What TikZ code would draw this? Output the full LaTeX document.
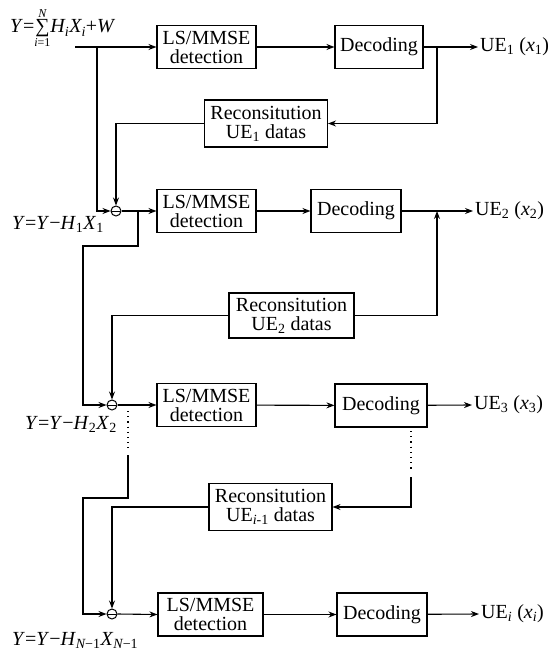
\documentclass[tikz,border=0pt]{standalone}
\usepackage{fontspec}
\setmainfont{Liberation Serif}
\usetikzlibrary{arrows.meta}
\newcommand\sbs[1]{\textsubscript{#1}}
\begin{document}
\begin{tikzpicture}[x=1pt,y=-1pt,
 font=\fontsize{20}{19}\selectfont,
 blk/.style={draw,line width=1.1pt,align=center,inner sep=0pt,minimum height=43pt},
 ln/.style={line width=1.1pt},
 dots/.style={ln,dash pattern=on 1.2pt off 4pt},
 arr/.style={ln,-{Stealth[length=8pt,width=6pt]}},
 minus/.style={draw,circle,line width=1pt,minimum size=10pt,inner sep=0pt,
   path picture={\draw[line width=0.8pt] (path picture bounding box.west) -- (path picture bounding box.east);}},
 lbl/.style={inner sep=0pt},
 outl/.style={inner sep=2pt,anchor=west}]
\useasboundingbox (0,0) rectangle (555,650);
% row 1
\node[lbl,anchor=base west] (in0) at (10,33) {\textit{Y}=$\mathop{\hbox{∑}}\limits_{\hbox{\fontsize{12}{12}\selectfont\itshape i\upshape=1}}^{\hbox{\fontsize{12}{12}\selectfont\itshape N}}$\textit{H\sbs{i}X\sbs{i}}+\textit{W}};
\node[blk,minimum width=99pt] (ls1) at (206.5,47) {LS/MMSE\\detection};
\node[blk,minimum width=88pt] (dec1) at (379,47) {Decoding};
\node[outl] (ue1) at (478,47) {UE\sbs{1} (\textit{x}\sbs{1})};
\node[blk,minimum width=123pt,minimum height=47pt] (rec1) at (266,123.5) {Reconsitution\\UE\sbs{1} datas};
\node[minus] (m1) at (116,211) {};
% row 2
\node[blk,minimum width=99pt] (ls2) at (206.5,211) {LS/MMSE\\detection};
\node[blk,minimum width=90pt] (dec2) at (356,211) {Decoding};
\node[outl] (ue2) at (473,211) {UE\sbs{2} (\textit{x}\sbs{2})};
\node[lbl,anchor=base west] (l1) at (12,229) {\textit{Y}=\textit{Y}−\textit{H}\sbs{1}\textit{X}\sbs{1}};
\node[blk,minimum width=125pt,minimum height=45pt] (rec2) at (291.5,315.5) {Reconsitution\\UE\sbs{2} datas};
\node[minus] (m2) at (112,405) {};
% row 3
\node[blk,minimum width=99pt] (ls3) at (206.5,405) {LS/MMSE\\detection};
\node[blk,minimum width=92pt] (dec3) at (381,405.5) {Decoding};
\node[outl] (ue3) at (472,405) {UE\sbs{3} (\textit{x}\sbs{3})};
\node[lbl,anchor=base west] (l2) at (25,429) {\textit{Y}=\textit{Y}−\textit{H}\sbs{2}\textit{X}\sbs{2}};
\node[blk,minimum width=123pt,minimum height=47pt] (rec3) at (270.5,507) {Reconsitution\\UE\textsubscript{\itshape i\upshape-1} datas};
\node[minus] (m4) at (112,614) {};
% row 4
\node[blk,minimum width=105pt] (ls4) at (210.5,614.5) {LS/MMSE\\detection};
\node[blk,minimum width=90pt] (dec4) at (382,614.5) {Decoding};
\node[outl] (ue4) at (479,614) {UE\textsubscript{\itshape i} (\textit{x}\textsubscript{\itshape i})};
\node[lbl,anchor=base west] (l3) at (12,645) {\textit{Y}=\textit{Y}−\textit{H}\textsubscript{\itshape N\upshape−1}\textit{X}\textsubscript{\itshape N\upshape−1}};
% coordinates
\coordinate (s0) at (75,47);
\coordinate (b0) at (97,47);
\coordinate (f1) at (437,47);
\coordinate (b1) at (138,211);
\coordinate (k1) at (83,246);
\coordinate (f2) at (437,211);
\coordinate (d1a) at (128,411);
\coordinate (d1b) at (128,448);
\coordinate (d1c) at (128,455);
\coordinate (k2) at (83,498);
\coordinate (d2a) at (411,431);
\coordinate (d2b) at (411,469);
\coordinate (d2c) at (411,477);
% connectors row 1
\draw[arr] (s0) -- (ls1.west);
\draw[arr] (ls1) -- (dec1);
\draw[arr] (dec1) -- (ue1.west);
\draw[arr] (f1) |- (rec1.east);
\draw[arr] (rec1.west) -| (m1.north);
\draw[arr] (b0) |- (m1.west);
% row 2
\draw[arr] (m1.east) -- (ls2.west);
\draw[arr] (ls2) -- (dec2);
\draw[arr] (dec2) -- (ue2.west);
\draw[arr] (rec2.east) -| (f2);
\draw[arr] (rec2.west) -| (m2.north);
\draw[arr] (b1) |- (k1) |- (m2.west);
% row 3
\draw[arr] (m2.east) -- (ls3.west);
\draw[arr] (ls3) -- (dec3);
\draw[arr] (dec3) -- (ue3.west);
\draw[dots] (d1a) -- (d1b);
\draw[arr] (d1c) |- (k2) |- (m4.west);
\draw[dots] (d2a) -- (d2b);
\draw[arr] (d2c) |- (rec3.east);
\draw[arr] (rec3.west) -| (m4.north);
% row 4
\draw[arr] (m4.east) -- (ls4.west);
\draw[arr] (ls4) -- (dec4);
\draw[arr] (dec4) -- (ue4.west);
\end{tikzpicture}
\end{document}
